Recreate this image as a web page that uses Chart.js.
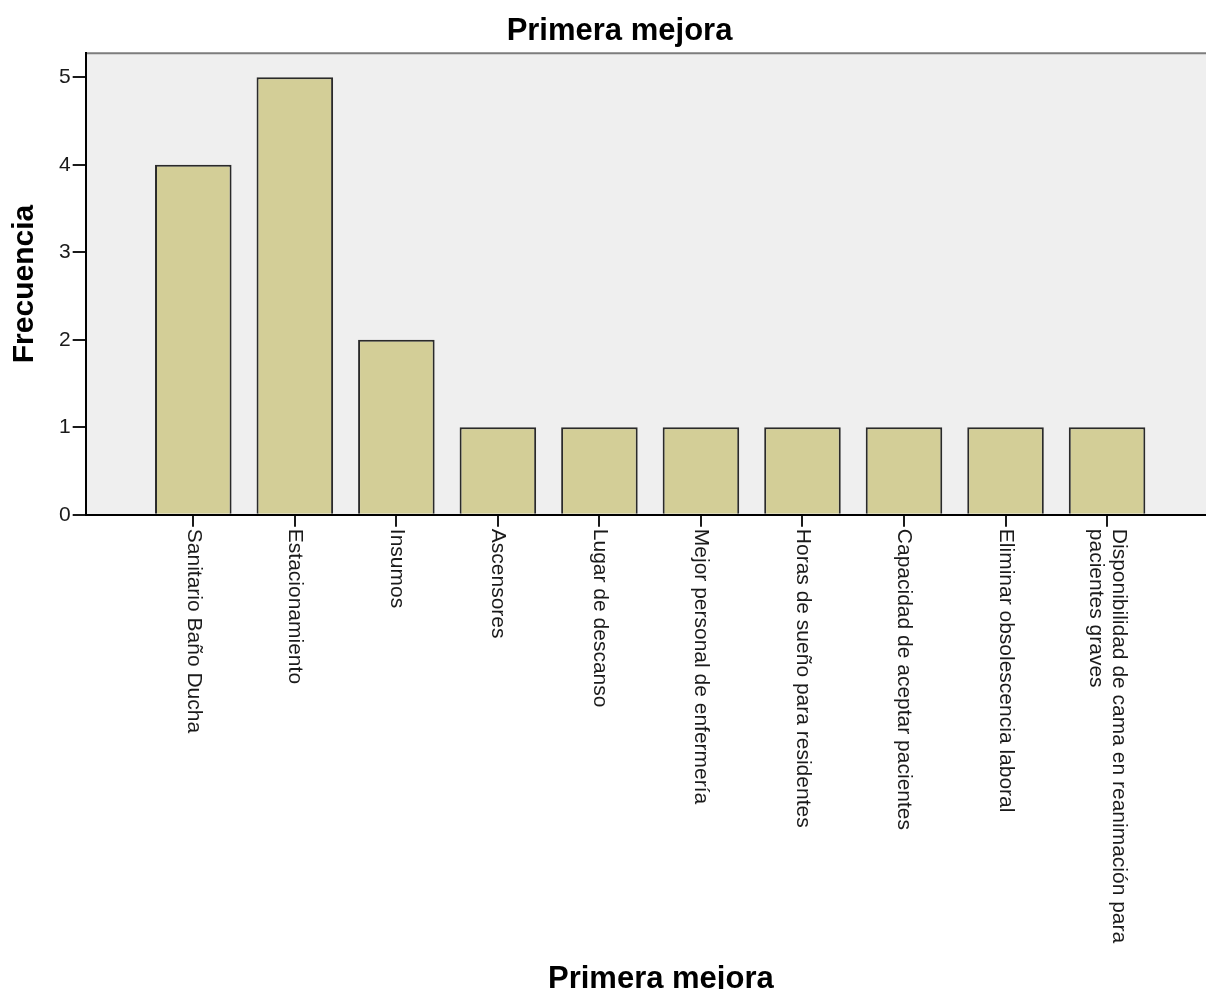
<!DOCTYPE html>
<html>
<head>
<meta charset="utf-8">
<script src="https://cdn.jsdelivr.net/npm/chart.js@4"></script>
<style>
  html, body { margin: 0; padding: 0; background: #fff; overflow: hidden; }
  canvas { display: block; }
</style>
</head>
<body>
<canvas id="chart" width="1236" height="1002" style="width:1236px;height:1002px"></canvas>
<script>
// SPSS-style frequency bar chart
const chartTitle = 'Primera mejora';
const xAxisTitle = 'Primera mejora';
const yAxisTitle = 'Frecuencia';

const categories = [
  'Sanitario Baño Ducha',
  'Estacionamiento',
  'Insumos',
  'Ascensores',
  'Lugar de descanso',
  'Mejor personal de enfermería',
  'Horas de sueño para residentes',
  'Capacidad de aceptar pacientes',
  'Eliminar obsolescencia laboral',
  ['Disponibilidad de cama en reanimación para', 'pacientes graves']
];
const frecuencia = [4, 5, 2, 1, 1, 1, 1, 1, 1, 1];
const yTicks = [0, 1, 2, 3, 4, 5];

const FONT = '"Liberation Sans", Arial, sans-serif';
Chart.defaults.font.family = FONT;

// grey plot panel + grey top edge
const plotBackground = {
  id: 'plotBackground',
  beforeDraw(chart) {
    const { ctx, chartArea: a } = chart;
    ctx.save();
    ctx.fillStyle = '#efefef';
    ctx.fillRect(a.left, a.top, a.right - a.left, a.bottom - a.top);
    ctx.strokeStyle = '#7d7d7d';
    ctx.lineWidth = 2;
    ctx.beginPath();
    ctx.moveTo(a.left, a.top);
    ctx.lineTo(a.right, a.top);
    ctx.stroke();
    ctx.restore();
  }
};

// category labels read top-to-bottom (rotated clockwise), which Chart.js can't do itself
const rotatedLabels = {
  id: 'rotatedLabels',
  afterDraw(chart) {
    const xs = chart.scales.x;
    const ctx = chart.ctx;
    ctx.save();
    ctx.font = '21px ' + FONT;
    ctx.fillStyle = '#1a1a1a';
    ctx.textAlign = 'left';
    ctx.textBaseline = 'middle';
    categories.forEach((label, i) => {
      const lines = Array.isArray(label) ? label : [label];
      ctx.save();
      ctx.translate(xs.getPixelForValue(i), xs.top + 14);
      ctx.rotate(Math.PI / 2);
      lines.forEach((line, j) => {
        ctx.fillText(line, 0, (j - (lines.length - 1) / 2) * 23);
      });
      ctx.restore();
    });
    ctx.restore();
  }
};

new Chart(document.getElementById('chart'), {
  type: 'bar',
  data: {
    datasets: [{
      label: yAxisTitle,
      data: frecuencia.map((v, i) => ({ x: i, y: v })),
      backgroundColor: '#d3ce97',
      borderColor: '#2a2a2a',
      borderWidth: 2,
      borderSkipped: 'start',
      categoryPercentage: 1,
      barPercentage: 0.754
    }]
  },
  options: {
    responsive: false,
    animation: false,
    devicePixelRatio: 1,
    layout: { padding: { left: 3, top: 0, right: 0, bottom: 0 } },
    plugins: {
      legend: { display: false },
      tooltip: { enabled: false },
      title: {
        display: true,
        text: chartTitle,
        color: '#000',
        font: { size: 31, weight: 'bold' },
        padding: { top: 13, bottom: 3 }
      }
    },
    scales: {
      x: {
        type: 'linear',
        offset: false,
        min: -1.06,
        max: 10.27,
        afterBuildTicks: s => { s.ticks = categories.map((_, i) => ({ value: i })); },
        grid: { display: true, offset: false, drawOnChartArea: false, drawTicks: true, tickLength: 12, color: '#1a1a1a', lineWidth: 2 },
        border: { display: true, color: '#000', width: 2 },
        ticks: { display: false },
        title: {
          display: true,
          text: xAxisTitle,
          color: '#000',
          font: { size: 31, weight: 'bold' },
          padding: { top: 434, bottom: 4 }
        }
      },
      y: {
        min: 0,
        max: 5.275,
        afterBuildTicks: s => { s.ticks = yTicks.map(v => ({ value: v })); },
        grid: { display: true, drawOnChartArea: false, tickLength: 13, color: '#1a1a1a', lineWidth: 2 },
        border: { display: true, color: '#000', width: 2 },
        ticks: { padding: 2, color: '#1a1a1a', font: { size: 21 } },
        title: {
          display: true,
          text: yAxisTitle,
          color: '#000',
          font: { size: 30, weight: 'bold' },
          padding: { top: 4, bottom: 14 }
        }
      }
    }
  },
  plugins: [plotBackground, rotatedLabels]
});
</script>
</body>
</html>
